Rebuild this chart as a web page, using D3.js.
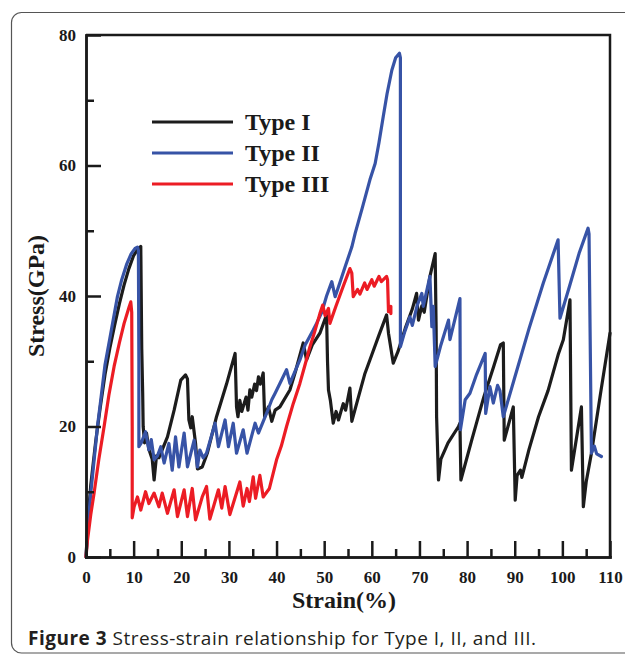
<!doctype html>
<html lang="en">
<head>
<meta charset="utf-8">
<title>Stress-strain</title>
<style>
    body { margin: 0; background: #fff; }
    .tick text { font-family: "Liberation Serif", "Times New Roman", serif; font-weight: bold; font-size: 17px; fill: #1a1a1a; }
    .axis path, .axis line { stroke: #1a1a1a; stroke-width: 2.5px; }
    .series { fill: none; stroke-width: 3.2px; stroke-linejoin: round; stroke-linecap: round; }
</style>
</head>
<body>
<svg width="625" height="656"></svg>
<script src="https://d3js.org/d3.v7.min.js"></script>
<script>
    // strain (%) , stress (GPa)
    var typeI = [
        [0,0],[0.5,6.5],[1,11],[2,17.5],[3,23],[4,28],[5,32],[6,35.5],[7,38.8],[8,41.7],[9,44.2],[10,46.2],[11,47.3],[11.5,47.6],
        [11.7,32],[11.9,25],[12.0,20],[12.3,17.5],[12.7,19],[13.2,16.5],[13.9,15],[14.3,11.8],[14.8,15.5],[15.3,15.2],[17.1,18.4],
        [18.5,22.5],[19.9,27.1],[20.9,27.9],[21.3,27.3],[21.6,21],[22.0,19.8],[22.3,21.5],[23.0,17.4],[23.4,13.5],[24.4,13.8],
        [25.5,16],[27.4,21.5],[29.5,26.5],[31.3,31.2],[31.6,23],[31.9,21.5],[32.3,24],[32.7,22.3],[33.6,24.5],[34.0,22.5],
        [34.4,25.6],[34.8,24.5],[35.4,26.5],[35.8,25.5],[36.2,27.6],[36.6,26.5],[37.2,28.2],[37.5,21.5],[38.3,23],[39.0,20.8],
        [39.7,22.5],[40.7,23],[42.8,25.6],[44,28.5],[45.6,32.8],[46.3,30.2],[47.5,32.5],[49.1,34.3],[50.5,37.1],[50.7,30],
        [50.9,25.6],[51.3,24],[51.9,20.5],[52.5,22.3],[53,21],[54,23.5],[54.5,22.5],[55.4,25.9],[55.8,20.8],[57,24],[58.5,28],
        [60,31],[61.5,34],[63.1,37.1],[63.5,34.3],[64.5,29.7],[65.5,31.5],[67,35],[68.5,38],[69.4,40.4],[69.8,36.3],[70.5,38.5],
        [71,37.5],[72.2,43],[73.3,46.5],[73.5,35],[73.6,21.5],[74.0,11.8],[74.5,15],[76,17.5],[78.2,20],[78.5,20.5],[78.7,11.8],
        [81,18],[83.5,24.5],[85.5,29],[87,32.5],[87.6,32.8],[87.8,17.9],[89.7,23],[90.1,8.7],[90.5,12.5],[91.2,13.3],[91.5,12.2],
        [93,16.5],[95,21.5],[97,25.5],[99.2,31.2],[100.2,33.3],[101.6,39.4],[101.9,13.3],[104.0,23.0],[104.4,7.7],[105,11.5],
        [106.1,15.9],[108,25],[110,34.3]
    ];
    var typeII = [
        [0,0],[0.5,5.5],[1,9.8],[2,17],[2.4,20],[3,23.5],[4,29.5],[5,33.5],[6,37.5],[6.6,39.9],[7.5,42.5],[8.5,44.8],[9.5,46.5],
        [10.3,47.3],[10.8,47.5],[11.0,47.0],[11.1,30],[11.1,16.9],[11.6,17.5],[12.5,19.2],[13.2,16.4],[13.7,18],[14.3,14.9],
        [15.0,15.5],[15.7,16.9],[16.4,14.4],[17.4,17.4],[18.1,13.3],[18.8,18.4],[19.5,13.8],[20.6,19.0],[21.3,13.8],[22.7,17.9],
        [23.4,13.8],[23.9,16.4],[24.6,15.2],[25.3,15.9],[27.1,20.5],[27.8,16.9],[29.2,21],[29.9,16.9],[30.9,20.5],[31.6,15.9],
        [33.0,19.5],[33.8,15.9],[35.5,20.5],[36.2,19],[37.9,22],[39.0,24.1],[39.7,25.1],[40.7,26.6],[42.1,28.7],[42.8,26.6],
        [44.9,30.2],[46,32.5],[47.7,34.8],[48.4,35.8],[49.5,37.5],[50.5,40],[51.6,42.2],[52.3,39.9],[53.5,42.5],[54.4,44.5],
        [55.8,47.5],[56.5,49.6],[58,53.5],[59.6,57.8],[60.7,60.3],[61.5,63.5],[62.4,67.5],[63.2,71],[64.2,74.6],[65,76.5],
        [65.8,77.2],[66.0,76.5],[66.0,32.2],[66.9,34.5],[68.0,36.8],[68.5,35.5],[69.5,38.5],[70.5,40.4],[70.8,38.4],[72.2,43.0],
        [72.6,35.3],[72.9,38.4],[73.3,29.2],[74.5,32.5],[76.1,36.3],[76.4,33.3],[78.5,39.6],[78.6,19.5],[79.6,24.1],[80.6,25.1],
        [82,28],[83.8,31.2],[83.9,22.0],[84.8,26.1],[85.5,23.6],[86.4,26.3],[86.9,25.5],[87.6,21.5],[90,27.5],[93,35],[96,42],
        [99.1,48.6],[99.5,36.6],[101.5,41.5],[103.5,46.5],[105.4,50.4],[105.6,49.5],[106.1,15.9],[106.7,17],[107.2,15.8],[108.2,15.4]
    ];
    var typeIII = [
        [0,0],[0.3,2.5],[1,6.5],[1.7,9.8],[2.7,15],[3.8,20],[4.8,24.8],[5.9,29.2],[7,32.8],[8,35.8],[9,38.2],[9.4,39.1],[9.6,37.5],
        [9.7,20],[9.7,6.0],[10.1,7.7],[10.8,9.2],[11.5,7.2],[12.5,10.0],[13.2,8.2],[14.3,9.8],[15.3,7.7],[16.0,9.8],[17.1,6.7],
        [18.5,10.3],[19.2,6.2],[20.6,10.3],[21.3,6.2],[22.3,10.5],[23.0,5.7],[24.4,9.2],[25.3,10.8],[26.0,5.8],[27.8,10.3],
        [28.5,7.5],[29.2,10.8],[30.2,6.5],[32.3,11.5],[33.0,7.8],[33.8,10.5],[34.3,8.5],[35.1,12.3],[35.6,9],[36.5,12.5],[37.2,9.2],
        [38.5,10.5],[40.0,14.9],[41,17],[42.1,20],[43.5,23.5],[44.9,26.6],[46,29.5],[47.0,32.2],[48,34.5],[49.1,37.3],[49.7,38.6],
        [50.2,37],[50.9,38.1],[51.2,35.8],[52.5,38.5],[54,41.5],[55.4,44.2],[55.8,43.5],[56.1,39.9],[57,41],[57.5,40.3],[58.5,42],
        [59,41],[60,42.5],[60.5,41.5],[61.5,43],[62,42.2],[63.1,43],[63.3,42.5],[63.5,37.6],[64.0,38.4],[64.0,37.3]
    ];
    var seriesNames = ["Type I", "Type II", "Type III"];
    var seriesColors = ["#1c1c1c", "#3753a6", "#ec1c24"];
    var xTicks = [0, 10, 20, 30, 40, 50, 60, 70, 80, 90, 100, 110];
    var xMinor = [5, 15, 25, 35, 45, 55, 65, 75, 85, 95, 105];
    var yTicks = [0, 20, 40, 60, 80];
    var yMinor = [10, 30, 50, 70];

    var svg = d3.select("svg");
    var plotLeft = 86, plotRight = 610, plotTop = 35, plotBottom = 557;

    // caption frame
    svg.append("rect")
        .attr("x", 11.5).attr("y", 12.5)
        .attr("width", 660).attr("height", 640.5)
        .attr("rx", 10).attr("ry", 10)
        .attr("fill", "none")
        .attr("stroke", "#555")
        .attr("stroke-width", 1.2);

    var x = d3.scaleLinear().domain([0, 110]).range([plotLeft, plotRight]);
    var y = d3.scaleLinear().domain([0, 80]).range([plotBottom, plotTop]);

    var line = d3.line()
        .x(function (d) { return x(d[0]); })
        .y(function (d) { return y(d[1]); });

    var allSeries = [typeI, typeII, typeIII];
    svg.append("g")
        .selectAll("path")
        .data(allSeries)
        .enter().append("path")
        .attr("class", "series")
        .attr("stroke", function (d, i) { return seriesColors[i]; })
        .attr("d", line);

    // frame top and right
    svg.append("path")
        .attr("d", "M" + plotLeft + "," + plotTop + "H" + plotRight + "V" + plotBottom)
        .attr("fill", "none")
        .attr("stroke", "#1a1a1a")
        .attr("stroke-width", 2.5);

    svg.append("g")
        .attr("class", "axis")
        .attr("transform", "translate(0," + plotBottom + ")")
        .call(d3.axisBottom(x).tickValues(xMinor).tickSize(-8).tickSizeOuter(0).tickFormat(""));
    svg.append("g")
        .attr("class", "axis")
        .attr("transform", "translate(0," + plotBottom + ")")
        .call(d3.axisBottom(x).tickValues(xTicks).tickSize(-16).tickSizeOuter(0).tickPadding(14));

    svg.append("g")
        .attr("class", "axis")
        .attr("transform", "translate(" + plotLeft + ",0)")
        .call(d3.axisLeft(y).tickValues(yMinor).tickSize(-8).tickSizeOuter(0).tickFormat(""));
    svg.append("g")
        .attr("class", "axis")
        .attr("transform", "translate(" + plotLeft + ",0)")
        .call(d3.axisLeft(y).tickValues(yTicks).tickSize(-15).tickSizeOuter(0).tickPadding(10));

    svg.selectAll(".axis path.domain").attr("stroke-linecap", "square");

    svg.append("text")
        .attr("x", 344).attr("y", 608)
        .attr("text-anchor", "middle")
        .style("font-family", "'Liberation Serif', serif")
        .style("font-weight", "bold")
        .style("font-size", "24px")
        .attr("fill", "#1a1a1a")
        .text("Strain(%)");

    svg.append("text")
        .attr("transform", "translate(44,296) rotate(-90)")
        .attr("text-anchor", "middle")
        .style("font-family", "'Liberation Serif', serif")
        .style("font-weight", "bold")
        .style("font-size", "24px")
        .attr("fill", "#1a1a1a")
        .text("Stress(GPa)");

    // legend
    var legend = svg.selectAll(".legend")
        .data(seriesNames)
        .enter().append("g")
        .attr("class", "legend")
        .attr("transform", function (d, i) { return "translate(0," + (122 + i * 31) + ")"; });

    legend.append("line")
        .attr("x1", 152).attr("x2", 233)
        .attr("stroke-width", 3)
        .attr("stroke", function (d, i) { return seriesColors[i]; });

    legend.append("text")
        .attr("x", 245).attr("y", 8)
        .style("font-family", "'Liberation Serif', serif")
        .style("font-weight", "bold")
        .style("font-size", "24px")
        .attr("fill", "#1a1a1a")
        .text(function (d) { return d; });

    var caption = svg.append("text")
        .attr("x", 28).attr("y", 645)
        .attr("textLength", 508)
        .attr("lengthAdjust", "spacing")
        .style("font-family", "'Open Sans', 'Noto Sans', sans-serif")
        .style("font-size", "19px")
        .attr("fill", "#231f20");
    caption.append("tspan").style("font-weight", "bold").text("Figure 3");
    caption.append("tspan").text(" Stress-strain relationship for Type I, II, and III.");
</script>
</body>
</html>
